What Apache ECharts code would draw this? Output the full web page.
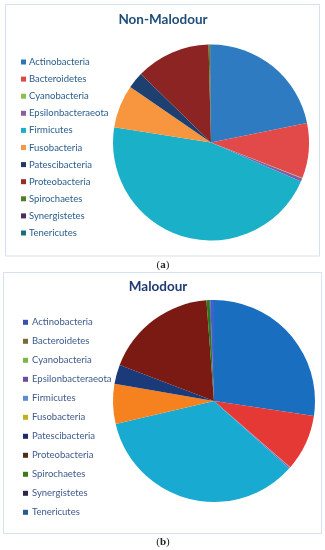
<!DOCTYPE html>
<html><head><meta charset="utf-8">
<script src="https://cdn.jsdelivr.net/npm/echarts@6/dist/echarts.min.js"></script>
<style>html,body{margin:0;padding:0;background:#fff}#c{width:325px;height:550px}</style>
</head><body><div id="c"></div>
<script>
const categories = ['Actinobacteria','Bacteroidetes','Cyanobacteria','Epsilonbacteraeota','Firmicutes','Fusobacteria','Patescibacteria','Proteobacteria','Spirochaetes','Synergistetes','Tenericutes'];
const nonMalodourValues = [21.8, 9.1, 0.1, 0.5, 46.0, 7.1, 2.7, 12.3, 0.2, 0.1, 0.1];
const malodourValues = [27.4, 9.0, 0.1, 0.2, 34.7, 6.4, 3.1, 18.0, 0.5, 0.1, 0.6];
const titleA = 'Non-Malodour';
const titleB = 'Malodour';

const pieColorsA = ['#2f7bc2','#e24a4a','#8cc04a','#8a5aa8','#1ab0c8','#f7963e','#1d4070','#8c2424','#4f7f2a','#4b2c5e','#1f6b7a'];
const legendColorsA = ['#2e75b6','#e04848','#8cc04a','#8e5ea2','#17b1c8','#f79646','#1f3864','#9b2a2a','#4f7f2a','#4b2c5e','#1f6b7a'];
const pieColorsB = ['#1a6ec0','#e53935','#7ab648','#8a5ac0','#18aad0','#f5821f','#1a3a7a','#7a1a12','#2a7a1a','#2a2a4a','#4060d0'];
const legendColorsB = ['#3b4fb0','#7a6a3a','#7ab648','#6a4ea0','#5b8dd0','#c0b020','#1f2a6a','#4a3018','#3d7a1a','#2a2a4a','#2a5a8a'];

const chart = echarts.init(document.getElementById('c'), null, {renderer:'canvas'});
const mk = (vals, cols) => categories.map((n,i)=>({name:n, value:vals[i], itemStyle:{color:cols[i]}}));
const lg = (cols) => categories.map((n,i)=>({name:n, itemStyle:{color:cols[i]}}));
const legendBase = {
  orient:'vertical', selectedMode:false, itemWidth:5, itemHeight:5, icon:'rect',
};
chart.setOption({
  animation:false,
  legend:[
    Object.assign({}, legendBase, {left:16, top:51, itemGap:5.1, data:lg(legendColorsA),
      textStyle:{fontFamily:'Lato', fontSize:9.5, color:'#2a5d8c', lineHeight:12, padding:[0,0,0,-2]}}),
    Object.assign({}, legendBase, {left:18, top:311.3, itemGap:7, data:lg(legendColorsB),
      textStyle:{fontFamily:'Lato', fontSize:9.5, color:'#3d5a8c', lineHeight:12, padding:[0,0,0,-1]}})
  ],
  graphic:[
    {type:'rect', shape:{x:5.5, y:4.5, width:314, height:251.5}, style:{fill:'none', stroke:'#d3e2ee', lineWidth:1}, z:-1},
    {type:'rect', shape:{x:3.5, y:272.5, width:318, height:261}, style:{fill:'none', stroke:'#d3e2ee', lineWidth:1}, z:-1},
    {type:'text', x:163, y:20, style:{text:titleA, fontFamily:'Lato', fontWeight:'bold', fontSize:13.5, fill:'#1f4e79', align:'center', verticalAlign:'middle'}},
    {type:'text', x:158, y:287, style:{text:titleB, fontFamily:'Lato', fontWeight:'bold', fontSize:13.5, fill:'#213a72', align:'center', verticalAlign:'middle'}},
    {type:'text', x:163, y:265.5, style:{text:'{p|(}{b|a}{p|)}', align:'center', verticalAlign:'middle',
      rich:{p:{fontFamily:'Liberation Serif', fontSize:11, fill:'#222'}, b:{fontFamily:'Liberation Serif', fontSize:11, fontWeight:'bold', fill:'#222'}}}},
    {type:'text', x:163, y:542, style:{text:'{p|(}{b|b}{p|)}', align:'center', verticalAlign:'middle',
      rich:{p:{fontFamily:'Liberation Serif', fontSize:11, fill:'#222'}, b:{fontFamily:'Liberation Serif', fontSize:11, fontWeight:'bold', fill:'#222'}}}}
  ],
  series:[
    {type:'pie', center:[211,142.5], radius:98, startAngle:90, clockwise:true, label:{show:false}, labelLine:{show:false},
      emphasis:{disabled:true}, itemStyle:{borderWidth:0}, data:mk(nonMalodourValues, pieColorsA)},
    {type:'pie', center:[214,401], radius:101, startAngle:90, clockwise:true, label:{show:false}, labelLine:{show:false},
      emphasis:{disabled:true}, itemStyle:{borderWidth:0}, data:mk(malodourValues, pieColorsB)}
  ]
});
</script></body></html>
